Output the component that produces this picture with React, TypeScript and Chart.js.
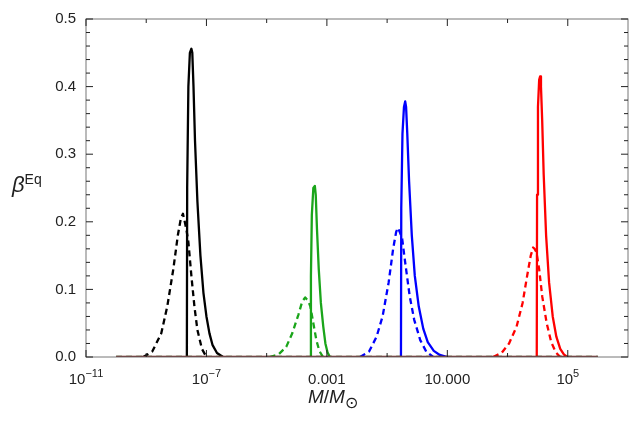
import { useEffect, useRef } from 'react'
import { Chart, registerables } from 'chart.js'

Chart.register(...registerables)

// x values are log10(M/Msun)
const blackSolidX = [-7.65, -7.64, -7.6, -7.55, -7.5, -7.47, -7.43, -7.38, -7.3, -7.2, -7.1, -7.0, -6.9, -6.8, -6.65, -6.45]
const blackSolidY = [0, 0.25, 0.4, 0.45, 0.456, 0.45, 0.4, 0.32, 0.23, 0.15, 0.095, 0.06, 0.035, 0.018, 0.006, 0]
const blackDashX = [-9.1, -8.8, -8.5, -8.3, -8.1, -7.95, -7.85, -7.78, -7.72, -7.66, -7.6, -7.5, -7.4, -7.3, -7.15, -7.0]
const blackDashY = [0, 0.008, 0.035, 0.075, 0.13, 0.18, 0.205, 0.212, 0.2, 0.187, 0.17, 0.12, 0.075, 0.04, 0.012, 0]
const greenSolidX = [-3.54, -3.53, -3.5, -3.45, -3.4, -3.37, -3.33, -3.27, -3.2, -3.12, -3.05, -2.98, -2.9]
const greenSolidY = [0, 0.12, 0.21, 0.25, 0.253, 0.24, 0.19, 0.13, 0.08, 0.045, 0.02, 0.007, 0]
const greenDashX = [-4.9, -4.6, -4.35, -4.15, -3.95, -3.82, -3.72, -3.66, -3.62, -3.55, -3.45, -3.35, -3.25, -3.13]
const greenDashY = [0, 0.004, 0.015, 0.035, 0.062, 0.082, 0.088, 0.085, 0.083, 0.075, 0.05, 0.025, 0.009, 0]
const blueSolidX = [-0.54, -0.53, -0.49, -0.44, -0.4, -0.37, -0.33, -0.27, -0.18, -0.08, 0.05, 0.2, 0.35, 0.55, 0.75, 1.0]
const blueSolidY = [0, 0.22, 0.33, 0.37, 0.378, 0.37, 0.33, 0.26, 0.18, 0.12, 0.075, 0.042, 0.022, 0.009, 0.003, 0]
const blueDashX = [-1.9, -1.6, -1.35, -1.15, -0.95, -0.8, -0.7, -0.64, -0.58, -0.5, -0.4, -0.25, -0.1, 0.1, 0.3, 0.53]
const blueDashY = [0, 0.008, 0.03, 0.06, 0.11, 0.16, 0.185, 0.191, 0.185, 0.175, 0.14, 0.09, 0.055, 0.025, 0.008, 0]
const redSolidX = [3.97, 3.98, 4.01, 4.05, 4.08, 4.11, 4.15, 4.2, 4.28, 4.38, 4.5, 4.62, 4.75, 4.87, 4.98]
const redSolidY = [0, 0.24, 0.37, 0.41, 0.415, 0.4, 0.35, 0.27, 0.18, 0.11, 0.06, 0.03, 0.012, 0.004, 0]
const redDashX = [2.52, 2.8, 3.05, 3.3, 3.5, 3.65, 3.77, 3.85, 3.9, 3.96, 4.05, 4.15, 4.3, 4.45, 4.6, 4.75]
const redDashY = [0, 0.006, 0.02, 0.045, 0.08, 0.12, 0.15, 0.162, 0.16, 0.155, 0.13, 0.09, 0.05, 0.022, 0.007, 0]
const baselineX = [-10, 6]
const baselineY = [0, 0]

const majorTicks = [-11, -7, -3, 1, 5]
const minorTicks = [-9, -5, -1, 3]
const yTicks = [0, 0.1, 0.2, 0.3, 0.4, 0.5]

const FONT = 'Liberation Sans'

const pts = (xs: number[], ys: number[]) => xs.map((x, i) => ({ x: Math.pow(10, x), y: ys[i] }))

const line = (xs: number[], ys: number[], color: string, dashed: boolean) => ({
  data: pts(xs, ys),
  borderColor: color,
  borderWidth: 2.3,
  borderDash: dashed ? [6, 4] : [],
  borderJoinStyle: 'round',
  pointRadius: 0,
  tension: 0,
  fill: false,
})

const boxTicks = {
  id: 'boxTicks',
  afterDraw(chart: Chart) {
    const { ctx, chartArea: a, scales } = chart
    const xs = scales.x
    const ys = scales.y
    ctx.save()
    ctx.strokeStyle = '#777'
    ctx.lineWidth = 1
    ctx.strokeRect(a.left, a.top, a.right - a.left, a.bottom - a.top)
    const tick = (x1: number, y1: number, x2: number, y2: number) => {
      ctx.beginPath()
      ctx.moveTo(x1, y1)
      ctx.lineTo(x2, y2)
      ctx.stroke()
    }
    ctx.strokeStyle = '#222'
    for (const d of majorTicks) {
      const p = xs.getPixelForValue(Math.pow(10, d))
      tick(p, a.bottom, p, a.bottom - 7)
      tick(p, a.top, p, a.top + 7)
    }
    for (const d of minorTicks) {
      const p = xs.getPixelForValue(Math.pow(10, d))
      tick(p, a.bottom, p, a.bottom - 4)
      tick(p, a.top, p, a.top + 4)
    }
    for (let i = 0; i <= 25; i++) {
      const v = i * 0.02
      const p = ys.getPixelForValue(v)
      const len = i % 5 === 0 ? 7 : 4
      tick(a.left, p, a.left + len, p)
      tick(a.right, p, a.right - len, p)
    }
    // x tick labels with real superscripts
    ctx.fillStyle = '#222'
    ctx.textBaseline = 'alphabetic'
    const base = a.bottom + 27
    for (const d of majorTicks) {
      const p = xs.getPixelForValue(Math.pow(10, d))
      if (d === -3 || d === 1) {
        ctx.font = `15px ${FONT}`
        ctx.textAlign = 'center'
        ctx.fillText(d === -3 ? '0.001' : '10.000', p, base)
      } else {
        ctx.font = `15px ${FONT}`
        const w1 = ctx.measureText('10').width
        const exp = d < 0 ? '\u2212' + Math.abs(d) : String(d)
        ctx.font = `11px ${FONT}`
        const w2 = ctx.measureText(exp).width
        const x0 = p - (w1 + w2) / 2
        ctx.textAlign = 'left'
        ctx.font = `15px ${FONT}`
        ctx.fillText('10', x0, base)
        ctx.font = `11px ${FONT}`
        ctx.fillText(exp, x0 + w1, base - 7)
      }
    }
    ctx.restore()
  },
}

export default function App() {
  const canvasRef = useRef<HTMLCanvasElement>(null)

  useEffect(() => {
    if (!canvasRef.current) return
    const chart = new Chart(canvasRef.current, {
      type: 'line',
      data: {
        datasets: [
          line(baselineX, baselineY, '#6b1f1f', false),
          line(baselineX, baselineY, '#2a7a2a', true),
          line(blackDashX, blackDashY, '#000', true),
          line(blackSolidX, blackSolidY, '#000', false),
          line(greenDashX, greenDashY, '#1aa51a', true),
          line(greenSolidX, greenSolidY, '#1aa51a', false),
          line(blueDashX, blueDashY, '#0000ff', true),
          line(blueSolidX, blueSolidY, '#0000ff', false),
          line(redDashX, redDashY, '#ff0000', true),
          line(redSolidX, redSolidY, '#ff0000', false),
        ] as any,
      },
      options: {
        animation: false,
        responsive: false,
        layout: { padding: { top: 17, right: 10, left: 0, bottom: 0 } },
        plugins: { legend: { display: false }, tooltip: { enabled: false } },
        scales: {
          x: {
            type: 'logarithmic',
            min: Math.pow(10, -11),
            max: Math.pow(10, 7),
            afterBuildTicks: (s: any) => {
              s.ticks = majorTicks.map((d) => ({ value: Math.pow(10, d) }))
            },
            afterFit: (s: any) => {
              s.height = 70
            },
            ticks: { display: false },
            grid: { display: false, drawTicks: false },
            border: { display: false },
          },
          y: {
            min: 0,
            max: 0.5,
            afterBuildTicks: (s: any) => {
              s.ticks = yTicks.map((v) => ({ value: v }))
            },
            afterFit: (s: any) => {
              s.width = 86
            },
            ticks: {
              padding: 10,
              color: '#222',
              font: { family: FONT, size: 15 },
              callback: (v: any) => Number(v).toFixed(1),
            },
            grid: { display: false, drawTicks: false },
            border: { display: false },
          },
        },
      },
      plugins: [boxTicks],
    })
    return () => chart.destroy()
  }, [])

  return (
    <div style={{ position: 'absolute', left: 0, top: 0, width: 638, height: 427, background: '#fff' }}>
      <canvas ref={canvasRef} width={638} height={427} />
      <div style={{ position: 'absolute', left: 12, top: 171, fontFamily: FONT, fontSize: 22, color: '#222' }}>
        <i>β</i>
        <sup style={{ fontSize: 14 }}>Eq</sup>
      </div>
      <div style={{ position: 'absolute', left: 308, top: 386, fontFamily: FONT, fontSize: 19, color: '#222' }}>
        <i>M</i>/<i>M</i>
        <sub style={{ fontSize: 16 }}>⊙</sub>
      </div>
    </div>
  )
}
